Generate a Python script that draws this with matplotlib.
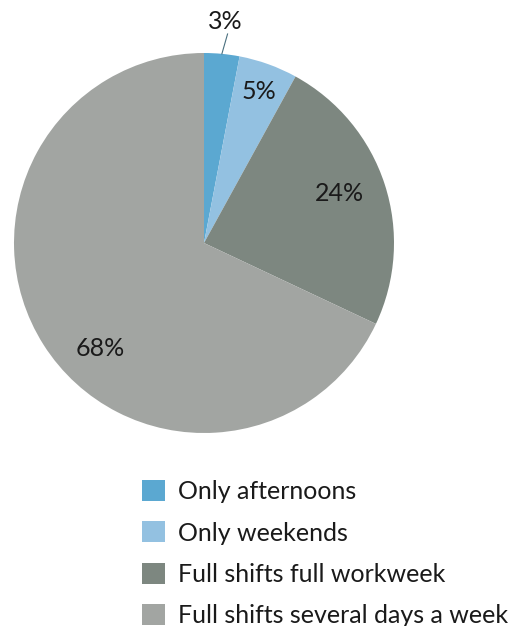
import numpy as np
import matplotlib.pyplot as plt
from matplotlib.patches import Patch

# Data
categories = ["Only afternoons", "Only weekends",
              "Full shifts full workweek", "Full shifts several days a week"]
values = [3, 5, 24, 68]
colors = ["#5ba8d1", "#93c1e1", "#7d8780", "#a2a5a2"]

plt.rcParams['font.family'] = ['Lato', 'DejaVu Sans']

fig = plt.figure(figsize=(5.13, 6.26), dpi=100)
W, H = 513, 626
cx, cy, r = 204, 243, 190
ax = fig.add_axes([(cx - r) / W, 1 - (cy + r) / H, 2 * r / W, 2 * r / H])

wedges, _ = ax.pie(values, colors=colors, startangle=90, counterclock=False,
                   radius=1, wedgeprops=dict(linewidth=0))
ax.set_xlim(-1, 1)
ax.set_ylim(-1, 1)
ax.set_aspect('equal')
ax.axis('off')

# Percentage labels (radius and angle shift from slice middle)
label_r = [1.17, 0.85, 0.76, 0.78]
label_shift = [0, 0, 2, 13]
for w, v, lr, sh in zip(wedges, values, label_r, label_shift):
    ang = np.deg2rad((w.theta1 + w.theta2) / 2 + sh)
    x, y = np.cos(ang), np.sin(ang)
    ax.text(lr * x, lr * y, f"{v}%", ha='center', va='center',
            fontsize=18, color='#1a1a1a', clip_on=False)
    if lr > 1:
        ax.plot([x, 1.105 * x + 0.02], [y, 1.105 * y], color='#4a6f7f',
                lw=0.8, clip_on=False)

handles = [Patch(facecolor=c, edgecolor='none') for c in colors]
fig.legend(handles, categories, loc='upper left',
           bbox_to_anchor=(142 / W, 1 - 480 / H), frameon=False,
           borderaxespad=0, borderpad=0,
           fontsize=18, handlelength=0.92, handleheight=0.92,
           handletextpad=0.5, labelspacing=0.73, labelcolor='#1a1a1a')

fig.savefig("out.png", dpi=100)
